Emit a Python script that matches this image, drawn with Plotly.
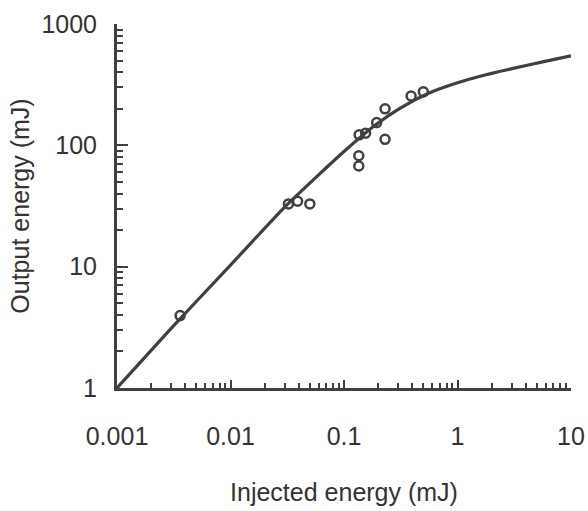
import plotly.graph_objects as go

# Measured data points (injected energy mJ, output energy mJ)
data_x = [0.0036, 0.0324, 0.039, 0.050, 0.135, 0.135, 0.136, 0.155, 0.194, 0.23, 0.23, 0.39, 0.50]
data_y = [3.95, 32.9, 34.6, 32.9, 82, 67.6, 122, 126, 154, 200, 112, 255, 276]

# Curve
curve_x = [0.001, 0.003, 0.01, 0.03, 0.056, 0.1, 0.178, 0.316, 0.562, 1, 1.78, 3.16, 5.62, 10]
curve_y = [1, 3.1, 10.3, 31, 54, 89, 141, 204, 270, 328, 382, 433, 487, 546]

x_tickvals = [0.001, 0.01, 0.1, 1, 10]
x_ticktext = ["0.001", "0.01", "0.1", "1", "10"]
y_tickvals = [1, 10, 100, 1000]
y_ticktext = ["1", "10", "100", "1000"]
minor_mult = [2, 3, 4, 5, 6, 7, 8, 9]

x_minor = [d * m for d in x_tickvals[:-1] for m in minor_mult]
y_minor = [d * m for d in y_tickvals[:-1] for m in minor_mult]

INK = "#404040"
TXT = "#333333"
FONT = "Liberation Sans, Arial, Helvetica, sans-serif"
FS = 25

fig = go.Figure()
fig.add_trace(go.Scatter(x=curve_x, y=curve_y, mode="lines",
                         line=dict(color=INK, width=3.2, shape="spline", smoothing=0.6),
                         showlegend=False, hoverinfo="skip"))
fig.add_trace(go.Scatter(x=data_x, y=data_y, mode="markers",
                         marker=dict(symbol="circle-open", size=9, color=INK,
                                     line=dict(width=2.5, color=INK)),
                         showlegend=False))

fig.update_layout(
    width=588, height=511,
    margin=dict(l=117, r=17, t=24, b=123, autoexpand=False),
    paper_bgcolor="white", plot_bgcolor="white",
    font=dict(family=FONT, size=FS, color=TXT),
)
fig.update_xaxes(
    type="log", range=[-3, 1],
    tickmode="array", tickvals=x_tickvals, ticktext=x_ticktext,
    tickfont=dict(family=FONT, size=FS, color=TXT),
    showline=True, linecolor=INK, linewidth=3,
    ticks="inside", ticklen=8, tickwidth=2, tickcolor=INK,
    minor=dict(tickmode="array", tickvals=x_minor, ticks="inside", ticklen=5,
               tickwidth=2, tickcolor=INK, showgrid=False),
    showgrid=False, zeroline=False, mirror=False,
    ticklabelstandoff=24,
    title=dict(text="Injected energy (mJ)", standoff=35,
               font=dict(family=FONT, size=FS, color=TXT)),
)
fig.update_yaxes(
    type="log", range=[0, 3],
    tickmode="array", tickvals=y_tickvals, ticktext=y_ticktext,
    tickfont=dict(family=FONT, size=FS, color=TXT),
    showline=True, linecolor=INK, linewidth=3,
    ticks="inside", ticklen=11, tickwidth=2, tickcolor=INK,
    minor=dict(tickmode="array", tickvals=y_minor, ticks="inside", ticklen=6,
               tickwidth=2, tickcolor=INK, showgrid=False),
    showgrid=False, zeroline=False, mirror=False,
    ticklabelstandoff=12,
    title=dict(text="Output energy (mJ)", standoff=5,
               font=dict(family=FONT, size=FS, color=TXT)),
)

fig.write_html("out.html", config={"displayModeBar": False},
               post_script="document.body.style.margin='0';document.body.style.overflow='hidden';")
